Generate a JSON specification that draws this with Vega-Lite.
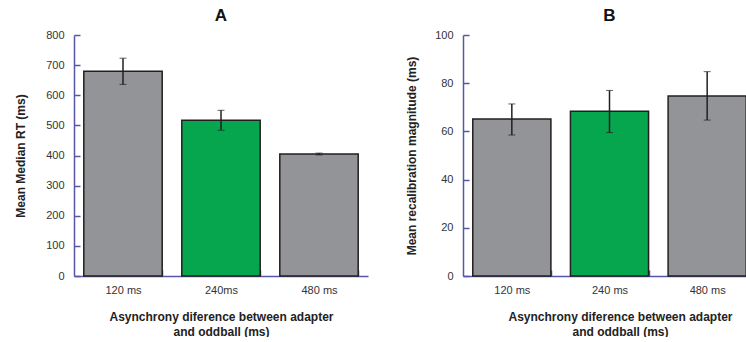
{
  "$schema": "https://vega.github.io/schema/vega-lite/v6.json",
  "padding": {"left": 14, "top": 7, "right": 0, "bottom": 0},
  "background": "white",
  "config": {
    "view": {"stroke": null},
    "font": "Liberation Sans",
    "axis": {
      "domainColor": "#5656aa",
      "tickColor": "#5656aa",
      "domainWidth": 1.5,
      "tickWidth": 1.5,
      "labelColor": "#333333",
      "labelFontSize": 11,
      "titleFontSize": 12,
      "titleFontWeight": "bold",
      "titleColor": "#222222",
      "grid": false
    },
    "title": {"fontSize": 17, "fontWeight": "bold", "color": "#111111", "offset": 4}
  },
  "datasets": {
    "rt": [
      {"cond": "120 ms", "mean": 680, "lo": 636, "hi": 723, "hl": "no"},
      {"cond": "240ms", "mean": 517, "lo": 484, "hi": 550, "hl": "yes"},
      {"cond": "480 ms", "mean": 405, "lo": 402, "hi": 408, "hl": "no"}
    ],
    "recal": [
      {"cond": "120 ms", "mean": 65.1, "lo": 58.5, "hi": 71.4, "hl": "no"},
      {"cond": "240 ms", "mean": 68.4, "lo": 59.5, "hi": 77.0, "hl": "yes"},
      {"cond": "480 ms", "mean": 74.7, "lo": 64.7, "hi": 84.8, "hl": "no"}
    ]
  },
  "hconcat": [
    {
      "title": "A",
      "width": 294,
      "height": 241,
      "data": {"name": "rt"},
      "encoding": {
        "x": {
          "field": "cond", "type": "nominal", "sort": null,
          "scale": {"paddingInner": 0.2, "paddingOuter": 0.1},
          "axis": {"title": ["Asynchrony diference between adapter", "and oddball (ms)"], "labelAngle": 0, "tickBand": "extent", "tickSize": -6, "labelPadding": 14, "titlePadding": 16, "titleLineHeight": 15}
        }
      },
      "layer": [
        {
          "mark": {"type": "bar", "stroke": "#231f20", "strokeWidth": 1.5},
          "encoding": {
            "y": {"field": "mean", "type": "quantitative", "scale": {"domain": [0, 800]}, "axis": {"title": "Mean Median RT (ms)", "values": [0,100,200,300,400,500,600,700,800], "labelOverlap": false, "tickSize": -6, "labelPadding": 16, "titlePadding": 18}},
            "color": {"field": "hl", "type": "nominal", "scale": {"domain": ["no", "yes"], "range": ["#929497", "#06a64f"]}, "legend": null}
          }
        },
        {
          "mark": {"type": "errorbar", "ticks": {"size": 7, "color": "#231f20", "strokeWidth": 1.5}, "rule": {"color": "#231f20", "strokeWidth": 1.5}},
          "encoding": {
            "y": {"field": "lo", "type": "quantitative", "axis": {"title": "Mean Median RT (ms)", "values": [0,100,200,300,400,500,600,700,800], "labelOverlap": false, "tickSize": -6, "labelPadding": 16, "titlePadding": 18}},
            "y2": {"field": "hi"}
          }
        }
      ]
    },
    {
      "title": "B",
      "width": 293,
      "height": 241,
      "data": {"name": "recal"},
      "encoding": {
        "x": {
          "field": "cond", "type": "nominal", "sort": null,
          "scale": {"paddingInner": 0.2, "paddingOuter": 0.1},
          "axis": {"title": ["Asynchrony diference between adapter", "and oddball (ms)"], "titleX": 157, "labelAngle": 0, "tickBand": "extent", "tickSize": -6, "labelPadding": 14, "titlePadding": 16, "titleLineHeight": 15}
        }
      },
      "layer": [
        {
          "mark": {"type": "bar", "stroke": "#231f20", "strokeWidth": 1.5},
          "encoding": {
            "y": {"field": "mean", "type": "quantitative", "scale": {"domain": [0, 100]}, "axis": {"title": "Mean recalibration magnitude (ms)", "values": [0,20,40,60,80,100], "labelOverlap": false, "tickSize": -6, "labelPadding": 16, "titlePadding": 16}},
            "color": {"field": "hl", "type": "nominal", "scale": {"domain": ["no", "yes"], "range": ["#929497", "#06a64f"]}, "legend": null}
          }
        },
        {
          "mark": {"type": "errorbar", "ticks": {"size": 7, "color": "#231f20", "strokeWidth": 1.5}, "rule": {"color": "#231f20", "strokeWidth": 1.5}},
          "encoding": {
            "y": {"field": "lo", "type": "quantitative", "axis": {"title": "Mean recalibration magnitude (ms)", "values": [0,20,40,60,80,100], "labelOverlap": false, "tickSize": -6, "labelPadding": 16, "titlePadding": 16}},
            "y2": {"field": "hi"}
          }
        }
      ]
    }
  ],
  "spacing": 37,
  "resolve": {"scale": {"color": "shared"}}
}
